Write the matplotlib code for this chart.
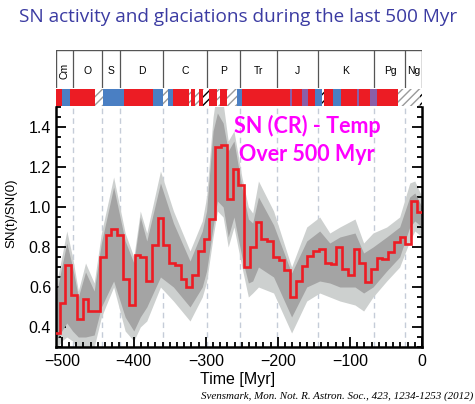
import matplotlib
matplotlib.use("Agg")
import matplotlib.pyplot as plt
import numpy as np
from matplotlib.ticker import MultipleLocator, FormatStrFormatter

# ---------------- data ----------------
# SN(t)/SN(0) step curve, 8 Myr bins
bin_start = -511
bin_width = 8
sn_values = [0.37, 0.52, 0.71, 0.56, 0.44, 0.54, 0.48, 0.48, 0.75, 0.86,
             0.89, 0.86, 0.64, 0.51, 0.76, 0.75, 0.63, 0.81, 0.945, 0.81,
             0.72, 0.71, 0.64, 0.60, 0.66, 0.78, 0.84, 0.94, 1.30, 1.31,
             1.04, 1.19, 1.11, 0.70, 0.80, 0.925, 0.84, 0.83, 0.75, 0.735,
             0.685, 0.55, 0.63, 0.705, 0.755, 0.778, 0.79, 0.72, 0.715, 0.80,
             0.69, 0.66, 0.79, 0.72, 0.625, 0.69, 0.745, 0.742, 0.775, 0.825,
             0.848, 0.817, 1.03, 0.975]

# uncertainty bands
band_t = [-510, -500, -493, -485, -477, -467, -455, -445, -428, -412,
          -400, -391, -382, -363, -345, -322, -305, -299, -290, -284,
          -276, -269, -261, -250, -241, -235, -227, -206, -181, -160,
          -142, -128, -114, -93, -81, -68, -49, -31, -17, -10, 0]
outer_hi = [0.57, 0.75, 0.88, 0.75, 0.58, 0.72, 0.62, 0.87, 1.15, 0.87,
            0.75, 0.98, 0.87, 1.18, 0.98, 0.78, 0.93, 1.05, 1.45, 1.60,
            1.52, 1.33, 1.38, 1.15, 1.00, 0.97, 1.13, 0.98, 0.70, 0.90,
            0.95, 0.87, 0.90, 0.94, 0.82, 0.87, 0.90, 0.95, 1.12, 1.13, 1.05]
inner_hi = [0.52, 0.70, 0.82, 0.70, 0.55, 0.675, 0.58, 0.82, 1.10, 0.83,
            0.72, 0.95, 0.83, 1.12, 0.92, 0.73, 0.88, 0.98, 1.38, 1.47,
            1.42, 1.28, 1.33, 1.10, 0.94, 0.92, 1.05, 0.91, 0.67, 0.83,
            0.88, 0.82, 0.85, 0.87, 0.77, 0.80, 0.85, 0.90, 1.05, 1.07, 1.00]
inner_lo = [0.32, 0.38, 0.42, 0.38, 0.35, 0.35, 0.36, 0.50, 0.63, 0.45,
            0.38, 0.45, 0.50, 0.65, 0.60, 0.50, 0.60, 0.68, 0.90, 1.03,
            1.00, 0.85, 0.95, 0.75, 0.62, 0.63, 0.70, 0.65, 0.45, 0.60,
            0.63, 0.62, 0.60, 0.60, 0.57, 0.60, 0.68, 0.75, 0.90, 0.93, 0.90]
outer_lo = [0.28, 0.33, 0.35, 0.33, 0.28, 0.28, 0.30, 0.45, 0.60, 0.38,
            0.33, 0.40, 0.43, 0.60, 0.53, 0.43, 0.55, 0.625, 0.85, 0.98,
            0.95, 0.80, 0.90, 0.70, 0.55, 0.57, 0.60, 0.57, 0.37, 0.53,
            0.57, 0.55, 0.53, 0.51, 0.48, 0.55, 0.63, 0.70, 0.83, 0.88, 0.85]

# geological periods
period_edges = [-541, -485, -444, -419, -359, -299, -252, -201, -145, -66, -23, 0]
period_names = ["Cm", "O", "S", "D", "C", "P", "Tr", "J", "K", "Pg", "Ng"]

# climate strip: w = warm, c = cool, p = mixed, i = ice (hatched), g = strong glaciation
strip_edges = [-541, -500, -489, -454, -443, -414, -373, -359, -352, -345,
               -324, -320, -315, -310, -304, -296, -285, -281, -271, -257,
               -250, -183, -180, -167, -158, -148, -139, -136, -123, -112,
               -90, -88, -72, -63, -33, -3, 0]
strip_kinds = ["w", "c", "w", "i", "c", "w", "c", "i", "c", "w",
               "i", "w", "i", "w", "g", "w", "i", "w", "i", "c",
               "w", "p", "w", "p", "w", "c", "g", "w", "c", "w",
               "p", "w", "p", "w", "i", "g"]

xmin, xmax = -508, 0
ymin, ymax = 0.3, 1.5

RED = "#ec1c24"
BLUE = "#4a7fc3"
PURPLE = "#8a5fa8"
LIGHT = "#cdd0cf"
DARK = "#a4a4a4"
FONT = "Liberation Sans"

W, H = 475, 404
fig = plt.figure(figsize=(W / 100, H / 100), dpi=100)
fig.patch.set_facecolor("white")

def fx(px):
    return px / W

def fy(py):
    return 1 - py / H

L, R = 56, 422
ax = fig.add_axes([fx(L), fy(347), fx(R) - fx(L), fy(107) - fy(347)])
ax_strip = fig.add_axes([fx(L), fy(106), fx(R) - fx(L), fy(89) - fy(106)])
ax_per = fig.add_axes([fx(L), fy(88), fx(R) - fx(L), fy(50) - fy(88)])

# ---- main plot ----
for b in period_edges[1:-1]:
    ax.axvline(b, color="#c5ccd8", lw=1.0, ls=(0, (4, 3)), zorder=0)
ax.fill_between(band_t, outer_lo, outer_hi, color=LIGHT, lw=0, zorder=1)
ax.fill_between(band_t, inner_lo, inner_hi, color=DARK, lw=0, zorder=2)
edges = bin_start + bin_width * np.arange(len(sn_values) + 1)
ax.stairs(sn_values, edges, baseline=None, color=RED, lw=1.9, zorder=3)

ax.set_xlim(xmin, xmax)
ax.set_ylim(ymin, ymax)
ax.xaxis.set_major_locator(MultipleLocator(100))
ax.xaxis.set_minor_locator(MultipleLocator(10))
ax.yaxis.set_major_locator(MultipleLocator(0.2))
ax.yaxis.set_minor_locator(MultipleLocator(0.05))
ax.yaxis.set_major_formatter(FormatStrFormatter("%.1f"))
ax.tick_params(which="both", direction="in", right=True, top=False,
               width=1.3, colors="black", labelsize=11.5)
ax.tick_params(which="major", length=7)
ax.tick_params(which="minor", length=3.5)
ax.tick_params(axis="x", pad=5)
for lab in ax.get_xticklabels() + ax.get_yticklabels():
    lab.set_family(FONT)
ax.spines["top"].set_visible(False)
for s in ["left", "right", "bottom"]:
    ax.spines[s].set_linewidth(1.8)
ax.set_xlabel("Time [Myr]", fontsize=11.5, family=FONT)
ax.xaxis.set_label_coords((238 - L) / (R - L), (347 - 372) / 240)
ax.set_ylabel("SN(t)/SN(0)", fontsize=9.5, family=FONT)
ax.yaxis.set_label_coords((17 - L) / (R - L), (347 - 213) / 240)

ax.text((307 - L) / (R - L), (347 - 140) / 240, "SN (CR) - Temp\nOver 500 Myr",
        transform=ax.transAxes, ha="center", va="center", color="#ff00ff",
        fontsize=15.5, fontweight="bold", family="Lato", linespacing=1.45, zorder=5)

# ---- climate strip ----
for k in range(len(strip_kinds)):
    a, b = strip_edges[k], strip_edges[k + 1]
    kind = strip_kinds[k]
    if kind == "w":
        ax_strip.axvspan(a, b, color=RED, lw=0)
    elif kind == "c":
        ax_strip.axvspan(a, b, color=BLUE, lw=0)
    elif kind == "p":
        ax_strip.axvspan(a, b, color=PURPLE, lw=0)
    elif kind == "i":
        ax_strip.axvspan(a, b, facecolor="white", edgecolor="#9a9a9a",
                         hatch="////", lw=0)
    else:
        ax_strip.axvspan(a, b, facecolor="white", edgecolor="black",
                         hatch="////", lw=0)
ax_strip.set_xlim(xmin, xmax)
ax_strip.set_ylim(0, 1)
ax_strip.axis("off")

# ---- period boxes ----
ax_per.set_xlim(xmin, xmax)
ax_per.set_ylim(0, 1)
for s in ax_per.spines.values():
    s.set_visible(False)
ax_per.set_xticks([])
ax_per.set_yticks([])
ax_per.axhline(1, color="#555555", lw=1.0)
for b in period_edges[1:-1]:
    ax_per.axvline(b, color="#555555", lw=0.9)
ax_per.axvline(xmin, color="#555555", lw=1.0)
ax_per.axvline(xmax, color="#555555", lw=1.0)
for k, name in enumerate(period_names):
    a = max(period_edges[k], xmin)
    b = period_edges[k + 1]
    rot = 90 if name == "Cm" else 0
    ax_per.text((a + b) / 2, 0.45, name, ha="center", va="center",
                fontsize=7.5, rotation=rot, family=FONT)

# ---- title & citation ----
fig.text(fx(238), fy(17), "SN activity and glaciations during the last 500 Myr",
         ha="center", va="center", color="#3b3ba2", fontsize=13.7, family="Open Sans")
fig.text(fx(473), fy(396), "Svensmark, Mon. Not. R. Astron. Soc., 423, 1234-1253 (2012)",
         ha="right", va="center", fontsize=7.9, style="italic", family="Liberation Serif")

fig.savefig("out.png", dpi=100, facecolor="white")
